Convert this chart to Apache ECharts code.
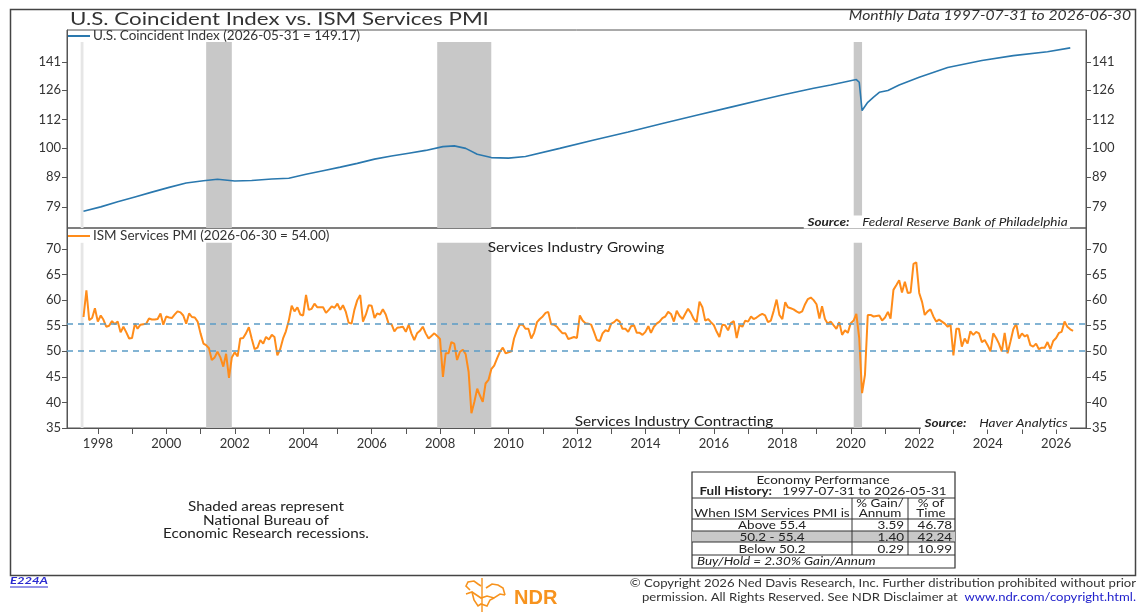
<!DOCTYPE html>
<html><head><meta charset="utf-8">
<script src="https://cdn.jsdelivr.net/npm/echarts@6/dist/echarts.min.js"></script>
<style>html,body{margin:0;padding:0;background:#fff;}#c{width:1142px;height:616px;}</style>
</head><body><div id="c"></div>
<script>
// ---------------- DATA ----------------
const ciDates = ['1997-07-31','1998-01-31','1998-07-31','1999-01-31','1999-07-31','2000-01-31','2000-07-31','2001-01-31','2001-06-30','2001-12-31','2002-06-30','2003-01-31','2003-07-31','2004-01-31','2004-07-31','2005-01-31','2005-07-31','2006-01-31','2006-07-31','2007-01-31','2007-07-31','2008-01-31','2008-05-31','2008-09-30','2009-01-31','2009-06-30','2009-12-31','2010-06-30','2011-06-30','2012-06-30','2013-06-30','2014-06-30','2015-06-30','2016-06-30','2017-06-30','2017-12-31','2018-11-30','2019-05-31','2020-02-29','2020-03-31','2020-04-30','2020-06-30','2020-08-31','2020-10-31','2021-01-31','2021-05-31','2021-12-31','2022-10-31','2023-10-31','2024-09-30','2025-09-30','2026-05-31'];
const ciValues = [77.6,79.0,80.6,82.2,83.8,85.4,86.9,87.7,88.2,87.6,87.8,88.3,88.6,90.0,91.3,92.6,94.0,95.6,96.8,97.9,99.0,100.5,100.8,99.8,97.5,96.2,96.0,96.6,99.8,103.2,106.6,110.2,113.9,117.7,121.6,123.5,126.9,128.6,131.4,130.0,116.1,120.0,122.5,124.9,125.8,128.6,132.6,137.9,141.8,144.6,146.9,149.17];

const pmiStartYear = 1997, pmiStartMonth = 7; // monthly, month-end
const pmiValues = [
56.7,61.9,56.1,56.5,58.4,55.8,57.0,56.2,54.8,55.0,55.9,55.3,
55.8,53.7,54.8,53.7,52.5,52.6,55.4,54.4,55.2,55.3,55.4,56.4,
56.2,56.2,56.3,57.4,55.2,56.8,56.6,56.5,57.2,57.8,57.6,57.0,
55.4,57.4,56.7,56.6,55.8,53.5,51.5,51.2,50.6,48.3,48.8,49.9,
48.8,47.0,49.5,44.8,48.8,49.8,49.0,52.5,52.6,53.5,54.7,52.5,
50.4,50.7,52.2,51.5,52.8,52.3,53.2,52.8,49.2,50.4,52.5,53.9,
56.0,58.9,57.8,58.6,57.2,57.0,61.0,58.1,58.3,59.3,58.6,58.6,
58.6,57.5,58.1,58.8,58.5,59.3,58.1,59.0,57.7,55.6,55.4,58.1,
60.0,61.0,55.8,57.2,59.0,58.9,56.5,57.4,57.2,58.2,57.2,55.4,
55.3,53.9,54.6,54.7,
54.8,53.8,55.2,53.5,52.2,53.5,54.0,54.8,53.5,52.5,53.0,53.5,
53.0,52.4,45.0,49.6,49.6,51.8,51.5,48.3,49.9,50.3,49.4,46.0,
37.9,40.1,42.7,41.4,40.1,43.7,44.4,46.5,47.2,48.6,49.9,50.7,
49.6,49.8,50.0,52.5,54.1,55.2,55.2,54.4,54.4,52.5,53.6,55.7,
56.3,56.8,57.5,57.7,55.3,55.2,54.8,54.1,53.5,53.5,52.4,52.6,
52.8,52.6,57.0,56.0,55.5,55.4,55.2,53.8,52.2,52.0,53.5,54.1,
53.9,55.4,55.7,56.2,55.8,54.4,54.4,53.8,54.9,55.1,53.6,53.6,
53.2,53.8,54.9,53.6,54.8,55.4,55.8,56.5,56.8,57.7,57.3,55.8,
57.9,56.9,56.3,57.3,58.3,57.5,56.3,55.7,59.7,58.6,56.0,56.3,
55.7,55.1,53.8,52.8,55.2,55.1,54.1,55.5,55.9,52.6,55.1,54.8,
56.0,55.8,56.8,56.3,56.6,57.0,57.3,57.0,55.7,56.0,57.9,60.1,
57.1,56.3,59.6,58.6,58.4,58.2,57.8,57.5,
57.8,59.2,60.2,60.5,60.0,59.2,56.4,58.8,56.3,55.4,55.8,55.1,
54.4,55.7,53.2,54.1,53.6,55.5,56.0,57.3,52.5,41.8,45.4,57.1,
57.1,56.8,56.9,57.0,56.0,56.6,57.7,56.4,62.0,62.9,63.9,61.5,
63.6,61.4,61.5,67.1,67.4,61.4,59.6,57.1,57.8,58.2,56.8,55.8,
56.2,55.8,55.4,54.8,55.2,49.2,54.4,54.4,50.9,52.5,51.5,53.9,
53.2,53.8,53.5,51.8,52.2,51.2,50.0,53.5,52.6,51.5,50.0,53.6,
49.6,51.9,54.3,55.4,52.5,53.5,52.9,53.2,51.2,50.9,51.5,50.4,
50.7,50.7,51.8,50.4,52.0,52.6,53.6,53.8,55.8,54.8,54.3,54.0];

const recessions = [['2001-03-01','2001-11-30'],['2007-12-01','2009-06-30'],['2020-02-01','2020-04-30']];
const ciTickLabels = [79, 89, 100, 112, 126, 141];
const pmiTickLabels = [35, 40, 45, 50, 55, 60, 65, 70];
const pmiThresholds = [55.4, 50.2];
const tableHead = ['When ISM Services PMI is', '% Gain/', 'Annum', '% of', 'Time'];
const tableRows = [['Above 55.4','3.59','46.78'],['50.2 - 55.4','1.40','42.24'],['Below 50.2','0.29','10.99']];
const buyHold = 'Buy/Hold = 2.30% Gain/Annum';
const historyRange = '1997-07-31 to 2026-05-31';

// ---------------- BUILD ----------------
function monthEnd(y, m) { return Date.UTC(y, m, 0); }
const pmiData = pmiValues.map((v, i) => {
  const mm = pmiStartMonth + i; const y = pmiStartYear + Math.floor((mm - 1) / 12); const m = ((mm - 1) % 12) + 1;
  return [monthEnd(y, m), v];
});
const ciData = ciDates.map((d, i) => [d, ciValues[i]]);
const lastPmi = pmiData[pmiData.length - 1];
const fmtDate = t => new Date(t).toISOString().slice(0, 10);
const ciLegend = 'U.S. Coincident Index (' + ciDates[ciDates.length - 1] + ' = ' + ciValues[ciValues.length - 1].toFixed(2) + ')';
const pmiLegend = 'ISM Services PMI (' + fmtDate(lastPmi[0]) + ' = ' + lastPmi[1].toFixed(2) + ')';

const FONT = 'Lato';
const YEAR = 365.25 * 86400000;
const xMin = Date.UTC(1997, 1, 5), xMax = Date.UTC(2026, 10, 15);
const AX = '#555';

function yAx(grid, pos, type, min, max, ticks) {
  return {
    type: type, gridIndex: grid, position: pos, min: min, max: max,
    axisLine: { show: true, lineStyle: { color: AX, width: 1 } },
    axisTick: { show: true, length: 5, lineStyle: { color: AX }, customValues: ticks },
    axisLabel: { color: '#333', fontSize: 13, fontFamily: FONT, margin: 6, customValues: ticks, formatter: v => String(Math.round(v)) },
    splitLine: { show: false }
  };
}
function recAreas(yTop, yBot) {
  return recessions.map(r => [{ xAxis: r[0], yAxis: yTop }, { xAxis: r[1], yAxis: yBot }]);
}
function txt(x, y, text, o, sx) {
  o = o || {};
  return { type: 'text', x: x, y: y, z: 100, scaleX: sx || 1.2, style: Object.assign({ text: text, fill: '#222', fontFamily: FONT, fontSize: 12, textAlign: 'left', textVerticalAlign: 'middle' }, o) };
}
function line(x1, y1, x2, y2, c, w) {
  return { type: 'line', z: 100, shape: { x1: x1, y1: y1, x2: x2, y2: y2 }, style: { stroke: c || '#333', lineWidth: w || 1 } };
}
const srcRich = { b: { fontWeight: 'bold', fontStyle: 'italic', fontSize: 11, fontFamily: FONT, fill: '#222' } };

const T = { l: 692, r: 955, t: 472, b: 568, c1: 852, c2: 908 };
const rowY = [519, 531, 542, 555];
const TS = 1.17;
const ORANGE = '#f7931e';
const graphics = [
  { type: 'rect', z: 90, shape: { x: 10.5, y: 9.5, width: 1125, height: 566 }, style: { fill: null, stroke: '#444', lineWidth: 1.5 } },
  txt(70, 19, 'U.S. Coincident Index vs. ISM Services PMI', { fontSize: 18, fill: '#333' }, 1.24),
  txt(1131, 16, 'Monthly Data 1997-07-31 to 2026-06-30', { fontSize: 13, fontStyle: 'italic', textAlign: 'right', fill: '#333' }, 1.21),
  txt(1070, 222, '{b|Source:}    Federal Reserve Bank of Philadelphia', { fontSize: 11, fontStyle: 'italic', textAlign: 'right', backgroundColor: '#fff', padding: [1, 2, 1, 3], rich: srcRich }, 1.23),
  txt(1070, 423, '{b|Source:}    Haver Analytics', { fontSize: 11, fontStyle: 'italic', textAlign: 'right', backgroundColor: '#fff', padding: [1, 2, 1, 3], rich: srcRich }, 1.23),
  txt(576, 248, 'Services Industry Growing', { fontSize: 13.5, textAlign: 'center' }, 1.14),
  txt(674, 422, 'Services Industry Contracting', { fontSize: 13.5, textAlign: 'center' }, 1.14),
  txt(266, 507, 'Shaded areas represent', { fontSize: 12.5, textAlign: 'center' }, 1.22),
  txt(266, 520.5, 'National Bureau of', { fontSize: 12.5, textAlign: 'center' }, 1.22),
  txt(266, 534, 'Economic Research recessions.', { fontSize: 12.5, textAlign: 'center' }, 1.22),
  { type: 'rect', z: 95, shape: { x: T.l, y: T.t, width: T.r - T.l, height: T.b - T.t }, style: { fill: '#fff', stroke: '#333', lineWidth: 1.2 } },
  { type: 'rect', z: 96, shape: { x: T.l, y: rowY[1], width: T.r - T.l, height: rowY[2] - rowY[1] }, style: { fill: '#c8c8c8' } },
  line(T.l, 498, T.r, 498), line(T.l, rowY[0], T.r, rowY[0]), line(T.l, rowY[1], T.r, rowY[1]), line(T.l, rowY[2], T.r, rowY[2]), line(T.l, rowY[3], T.r, rowY[3]),
  line(T.c1, 498, T.c1, rowY[3]), line(T.c2, 498, T.c2, rowY[3]),
  txt(823, 480, 'Economy Performance', { fontSize: 11.5, textAlign: 'center' }, TS),
  txt(823, 491, '{b|Full History:}   ' + historyRange, { fontSize: 11.5, textAlign: 'center', rich: { b: { fontWeight: 'bold', fontSize: 11.5, fontFamily: FONT, fill: '#222' } } }, TS),
  txt(772, 513, tableHead[0], { fontSize: 11.5, textAlign: 'center' }, TS),
  txt(880, 503, tableHead[1], { fontSize: 11.5, textAlign: 'center' }, TS),
  txt(880, 513, tableHead[2], { fontSize: 11.5, textAlign: 'center' }, TS),
  txt(931, 503, tableHead[3], { fontSize: 11.5, textAlign: 'center' }, TS),
  txt(931, 513, tableHead[4], { fontSize: 11.5, textAlign: 'center' }, TS),
  txt(697, 561.5, buyHold, { fontSize: 11.5, fontStyle: 'italic' }, TS),
  txt(10, 581, 'E224A', { fontSize: 10, fontStyle: 'italic', fontWeight: 'bold', fill: '#2a2ad0' }, 1.3),
  line(10, 587, 48, 587, '#2a2ad0', 1),
  // NDR logo (simplified)
  { type: 'polyline', z: 100, shape: { points: [[470, 590], [466, 586], [468, 582], [474, 581], [478, 584], [481, 586]] }, style: { fill: null, stroke: ORANGE, lineWidth: 1.6 } },
  { type: 'polyline', z: 100, shape: { points: [[466, 594], [472, 592], [478, 596], [481, 598], [487, 596], [494, 598], [500, 594], [505, 595]] }, style: { fill: null, stroke: ORANGE, lineWidth: 1.6 } },
  { type: 'polyline', z: 100, shape: { points: [[472, 592], [474, 600], [478, 606], [481, 604], [487, 606], [490, 600], [494, 598]] }, style: { fill: null, stroke: ORANGE, lineWidth: 1.6 } },
  { type: 'polyline', z: 100, shape: { points: [[486, 588], [492, 584], [498, 585], [503, 588], [505, 595]] }, style: { fill: null, stroke: ORANGE, lineWidth: 1.6 } },
  line(482, 578, 482, 612, ORANGE, 1.4),
  txt(514, 598, 'NDR', { fontSize: 20, fontWeight: 'bold', fontFamily: 'Liberation Sans', fill: ORANGE }, 1.0),
  txt(1136, 583, '\u00a9 Copyright 2026 Ned Davis Research, Inc. Further distribution prohibited without prior', { fontSize: 11.3, textAlign: 'right', fill: '#333' }, 1.16),
  txt(1136, 597, 'permission. All Rights Reserved. See NDR Disclaimer at  {u|www.ndr.com/copyright.html.}', { fontSize: 11.3, textAlign: 'right', fill: '#333', rich: { u: { fontSize: 11.3, fontFamily: FONT, fill: '#2222cc' } } }, 1.16)
];
tableRows.forEach((r, i) => {
  const y = (rowY[i] + rowY[i + 1]) / 2 + 0.5;
  graphics.push(txt(772, y, r[0], { fontSize: 11.5, textAlign: 'center' }, TS));
  graphics.push(txt(904, y, r[1], { fontSize: 11.5, textAlign: 'right' }, TS));
  graphics.push(txt(952, y, r[2], { fontSize: 11.5, textAlign: 'right' }, TS));
});

const option = {
  animation: false,
  useUTC: true,
  backgroundColor: '#fff',
  textStyle: { fontFamily: FONT },
  grid: [
    { left: 67, top: 30, width: 1019, height: 198, show: true, borderColor: AX, borderWidth: 1, outerBoundsMode: 'none' },
    { left: 67, top: 228, width: 1019, height: 200, show: true, borderColor: AX, borderWidth: 1, outerBoundsMode: 'none' }
  ],
  legend: [
    { data: ['U.S. Coincident Index'], left: 68, top: 29, padding: [0, 0, 0, 0], itemWidth: 22, itemHeight: 2, icon: 'rect', itemGap: 4, formatter: () => ciLegend, textStyle: { fontSize: 13.5, color: '#333', fontFamily: FONT, padding: [0, 0, 0, -2] } },
    { data: ['ISM Services PMI'], left: 68, top: 229, padding: [0, 0, 0, 0], itemWidth: 22, itemHeight: 2, icon: 'rect', itemGap: 4, formatter: () => pmiLegend, textStyle: { fontSize: 13.5, color: '#333', fontFamily: FONT, padding: [0, 0, 0, -2] } }
  ],
  xAxis: [
    { type: 'time', gridIndex: 0, min: xMin, max: xMax, axisLine: { show: false }, axisTick: { show: false }, axisLabel: { show: false }, splitLine: { show: false } },
    { type: 'time', gridIndex: 1, min: xMin, max: xMax, minInterval: YEAR * 0.99, maxInterval: YEAR * 1.01,
      axisLine: { show: true, lineStyle: { color: AX } },
      axisTick: { show: true, length: 6, lineStyle: { color: AX } },
      axisLabel: { color: '#333', fontSize: 13, fontFamily: FONT, margin: 9, hideOverlap: false,
        formatter: v => { const d = new Date(v); return (d.getUTCMonth() === 0 && d.getUTCDate() === 1 && d.getUTCFullYear() % 2 === 0) ? String(d.getUTCFullYear()) : ''; } },
      splitLine: { show: false } }
  ],
  yAxis: [
    yAx(0, 'left', 'log', 72.6, 160.2, ciTickLabels),
    yAx(0, 'right', 'log', 72.6, 160.2, ciTickLabels),
    yAx(1, 'left', 'value', 35, 74.1, pmiTickLabels),
    yAx(1, 'right', 'value', 35, 74.1, pmiTickLabels)
  ],
  series: [
    { name: 'U.S. Coincident Index', type: 'line', xAxisIndex: 0, yAxisIndex: 0, data: ciData, showSymbol: false,
      lineStyle: { color: '#2a78ae', width: 1.6 }, itemStyle: { color: '#2a78ae' },
      markArea: { silent: true, itemStyle: { color: '#c8c8c8' }, data: recAreas(152.7, 72.6).concat([[{ xAxis: '1997-07-01', yAxis: 152.7, itemStyle: { color: '#e6e6e6' } }, { xAxis: '1997-07-31', yAxis: 72.6 }]]) } },
    { name: 'ISM Services PMI', type: 'line', xAxisIndex: 1, yAxisIndex: 2, data: pmiData, showSymbol: false,
      lineStyle: { color: '#ff8c1a', width: 2 }, itemStyle: { color: '#ff8c1a' },
      markArea: { silent: true, itemStyle: { color: '#c8c8c8' }, data: recAreas(71.2, 35).concat([[{ xAxis: '1997-07-01', yAxis: 71.2, itemStyle: { color: '#e6e6e6' } }, { xAxis: '1997-07-31', yAxis: 35 }]]) },
      markLine: { silent: true, symbol: 'none', label: { show: false }, lineStyle: { color: '#5b9cc6', type: [6, 5], width: 1.5 }, data: pmiThresholds.map(v => ({ yAxis: v })) } }
  ],
  graphic: graphics
};
const chart = echarts.init(document.getElementById('c'), null, { renderer: 'canvas' });
chart.setOption(option);
</script></body></html>
